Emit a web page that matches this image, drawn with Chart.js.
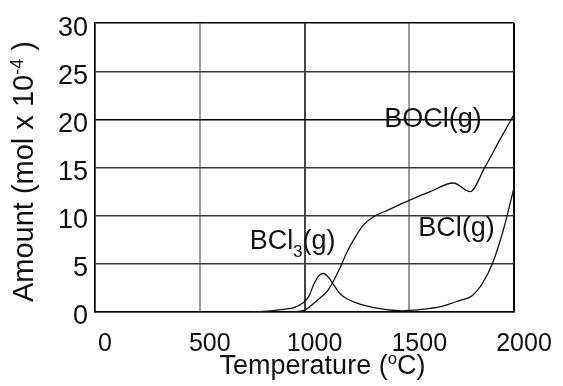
<!DOCTYPE html>
<html>
<head>
<meta charset="utf-8">
<title>Boron species vs temperature</title>
<script src="https://cdn.jsdelivr.net/npm/chart.js@4.4.1/dist/chart.umd.min.js"></script>
<style>
  html, body { margin: 0; padding: 0; background: #fff; }
  #chart { display: block; }
</style>
</head>
<body>
<canvas id="chart" width="563" height="386"></canvas>
<script>
/* Amount of gaseous boron species vs temperature */

const FONT = "'Liberation Sans', Arial, 'DejaVu Sans', sans-serif";
const INK = "#111";

/* ---------- data ---------- */
const xTicks = [0, 500, 1000, 1500, 2000];
const yTicks = [0, 5, 10, 15, 20, 25, 30];

const bcl3Temp = [750, 800, 850, 900, 950, 990, 1020, 1045, 1070, 1090, 1115, 1140, 1170, 1200, 1240, 1300, 1360, 1420, 1470];
const bcl3Amount = [0, 0.05, 0.15, 0.28, 0.45, 0.9, 1.6, 2.9, 3.8, 4.0, 3.6, 2.8, 1.9, 1.4, 1.0, 0.6, 0.35, 0.18, 0.12];

const bclTemp = [1470, 1550, 1600, 1650, 1700, 1750, 1800, 1850, 1900, 1950, 2000];
const bclAmount = [0.12, 0.25, 0.38, 0.55, 0.9, 1.25, 1.7, 3.0, 5.2, 8.6, 12.9];

const boclTemp = [930, 1000, 1060, 1110, 1140, 1170, 1200, 1240, 1280, 1330, 1400, 1500, 1600, 1710, 1790, 1860, 1930, 2000];
const boclAmount = [0, 0.2, 1.2, 2.2, 3.3, 4.6, 6.1, 7.7, 9.0, 9.9, 10.6, 11.6, 12.5, 13.4, 12.5, 15.0, 17.8, 20.5];

/* ---------- helpers ---------- */
function toPoints(xs, ys) {
  return xs.map((x, i) => ({ x, y: ys[i] }));
}

function curve(label, xs, ys) {
  return {
    label,
    data: toPoints(xs, ys),
    borderColor: INK,
    borderWidth: 1.3,
    pointRadius: 0,
    cubicInterpolationMode: "monotone",
    fill: false
  };
}

/* draw text made of runs, some of them super/subscript */
function drawRuns(ctx, runs, x, y, size, align) {
  const small = size * 0.62;
  const widths = runs.map((r) => {
    ctx.font = `${r.script ? small : size}px ${FONT}`;
    return ctx.measureText(r.text).width;
  });
  const total = widths.reduce((a, b) => a + b, 0);
  let cx = align === "center" ? x - total / 2 : x;
  runs.forEach((r, i) => {
    ctx.font = `${r.script ? small : size}px ${FONT}`;
    let dy = 0;
    if (r.script === "sup") dy = -size * 0.36;
    if (r.script === "sub") dy = size * 0.28;
    ctx.fillText(r.text, cx, y + dy);
    cx += widths[i];
  });
}

/* ---------- curve labels + axis titles ---------- */
const curveLabels = [
  { runs: [{ text: "BOCl(g)" }], x: 1613, y: 19.2 },
  { runs: [{ text: "BCl" }, { text: "3", script: "sub" }, { text: "(g)" }], x: 943, y: 6.5 },
  { runs: [{ text: "BCl(g)" }], x: 1725, y: 7.9 }
];

const textPlugin = {
  id: "figureText",
  afterDraw(chart) {
    const { ctx, chartArea, scales } = chart;
    ctx.save();
    ctx.fillStyle = INK;
    ctx.textAlign = "left";
    ctx.textBaseline = "alphabetic";

    curveLabels.forEach((l) => {
      drawRuns(ctx, l.runs, scales.x.getPixelForValue(l.x), scales.y.getPixelForValue(l.y), 27, "center");
    });

    /* x title */
    drawRuns(
      ctx,
      [{ text: "Temperature (" }, { text: "o", script: "sup" }, { text: "C)" }],
      (chartArea.left + chartArea.right) / 2 + 18,
      chart.height - 12,
      27,
      "center"
    );

    /* y title, rotated */
    ctx.translate(33, (chartArea.top + chartArea.bottom) / 2 + 4);
    ctx.rotate(-Math.PI / 2);
    drawRuns(
      ctx,
      [{ text: "Amount (mol x 10" }, { text: "-4", script: "sup" }, { text: " )" }],
      0,
      0,
      29,
      "center"
    );
    ctx.restore();
  }
};

/* ---------- chart ---------- */
new Chart(document.getElementById("chart"), {
  type: "line",
  data: {
    datasets: [
      curve("BCl3(g)", bcl3Temp, bcl3Amount),
      curve("BCl(g)", bclTemp, bclAmount),
      curve("BOCl(g)", boclTemp, boclAmount)
    ]
  },
  options: {
    responsive: false,
    animation: false,
    layout: { padding: { top: 20, right: 49, left: 0, bottom: 0 } },
    plugins: {
      legend: { display: false },
      tooltip: { enabled: false }
    },
    scales: {
      x: {
        type: "linear",
        min: 0,
        max: 2000,
        afterBuildTicks: (s) => { s.ticks = xTicks.map((v) => ({ value: v })); },
        afterFit: (s) => { s.height = 74; },
        ticks: {
          color: INK,
          font: { family: FONT, size: 25 },
          padding: 17,
          labelOffset: 10,
          maxRotation: 0,
          autoSkip: false,
          callback: (v) => String(v)
        },
        grid: {
          drawTicks: false,
          color: (c) => (c.tick.value === 2000 ? "#000" : c.tick.value === 1000 ? "#444" : "#9a9a9a"),
          lineWidth: 2
        },
        border: { color: "#000", width: 1.5 }
      },
      y: {
        min: 0,
        max: 30,
        afterBuildTicks: (s) => { s.ticks = yTicks.map((v) => ({ value: v })); },
        afterFit: (s) => { s.width = 95; },
        ticks: {
          color: INK,
          font: { family: FONT, size: 27 },
          padding: 7,
          labelOffset: 5,
          callback: (v) => String(v)
        },
        grid: {
          drawTicks: false,
          color: (c) => (c.tick.value === 30 || c.tick.value === 20 ? "#000" : "#3a3a3a"),
          lineWidth: 1.5
        },
        border: { color: "#000", width: 1.5 }
      }
    }
  },
  plugins: [textPlugin]
});
</script>
</body>
</html>
